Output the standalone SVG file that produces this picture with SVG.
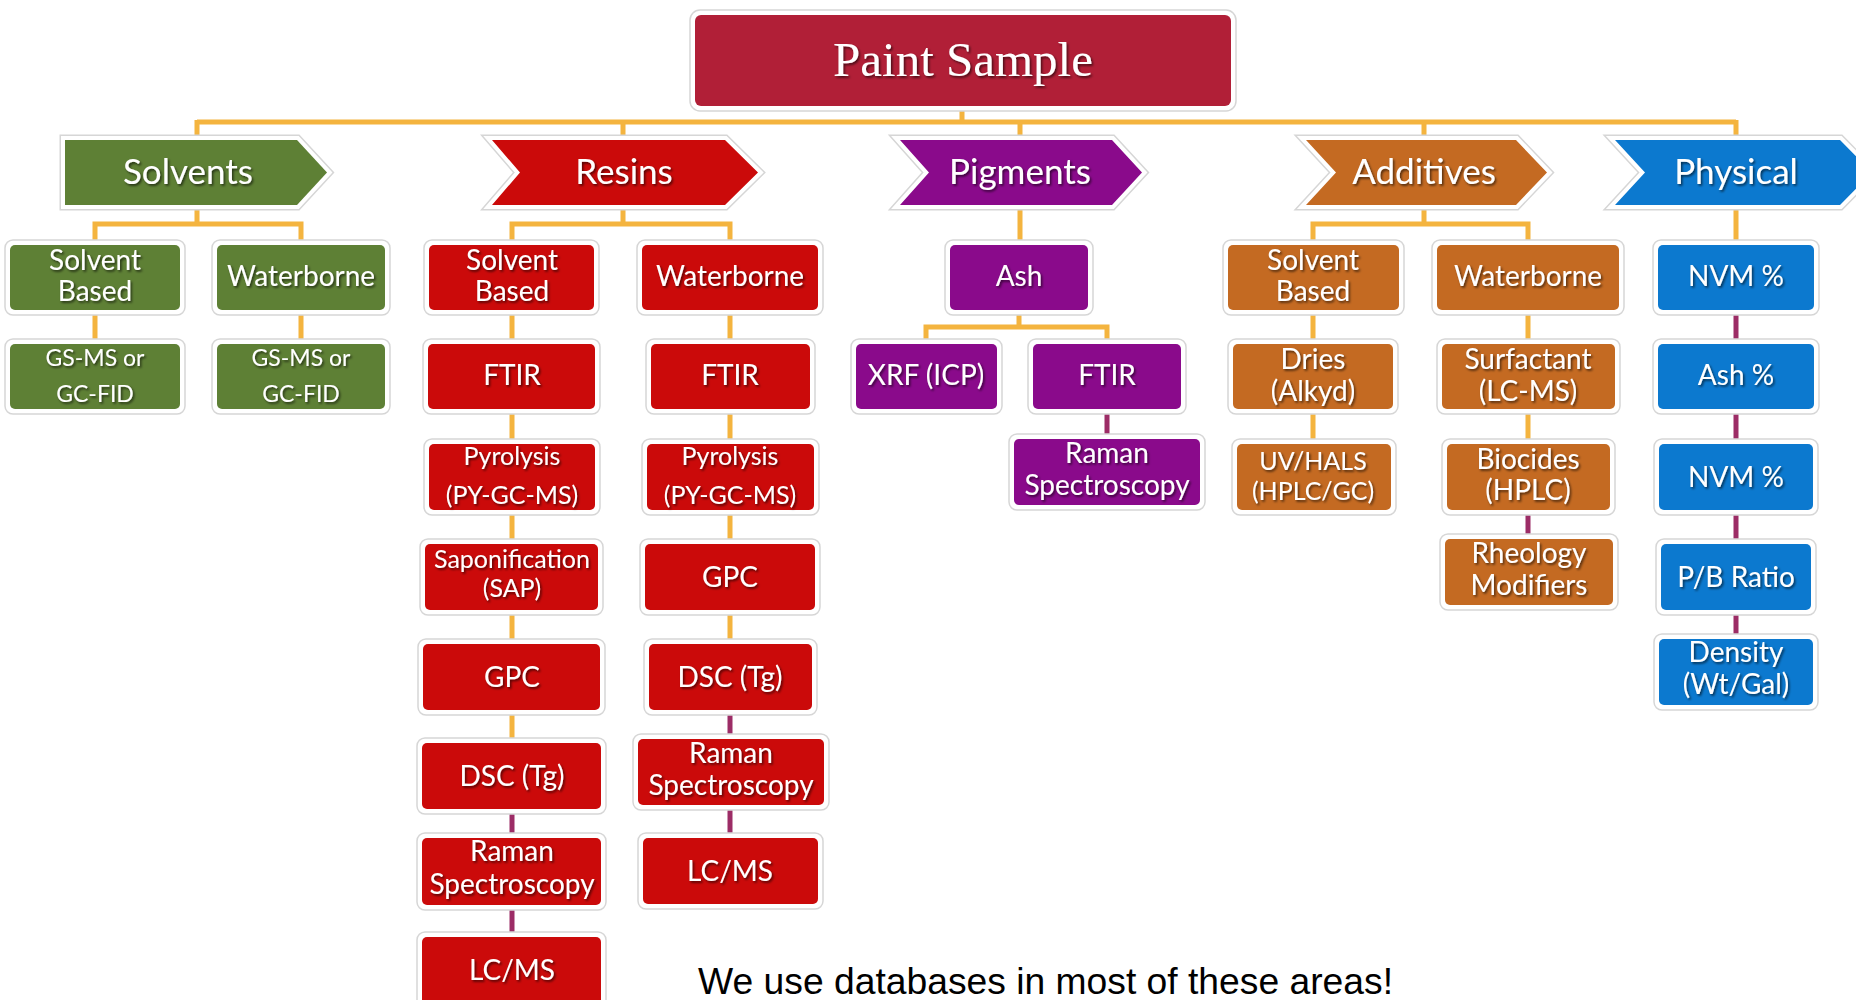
<svg xmlns="http://www.w3.org/2000/svg" width="1856" height="1000" viewBox="0 0 1856 1000">
<defs>
<filter id="ts" x="-10%" y="-30%" width="120%" height="160%">
<feDropShadow dx="1.5" dy="1.8" stdDeviation="1.1" flood-color="#000" flood-opacity="0.6"/>
</filter>
<style>
.ring{fill:#fff;stroke:#d6d6d6;stroke-width:1.5}
.g{fill:#5E8035}.r{fill:#CB0A0A}.p{fill:#8A0A8B}.o{fill:#C46A22}.b{fill:#0C79CF}
.t{font-family:Lato,"Noto Sans",sans-serif;fill:#fff;font-size:28px;text-anchor:middle;filter:url(#ts)}
.h{font-size:35px}
.s{font-size:25px}
.xs{font-size:23px}
.co{fill:none;stroke:#F4B43F;stroke-width:5}
.cp{fill:none;stroke:#9C2C66;stroke-width:5}
.cho{fill:none;stroke:#d6d6d6;stroke-width:11;stroke-linejoin:miter}
.chw{fill:none;stroke:#fff;stroke-width:8;stroke-linejoin:miter}
</style>
</defs>
<rect width="1856" height="1000" fill="#fff"/>
<g id="connectors">
<path class="co" d="M962,106 V122 M197,122 H1736 M197,120 V140 M623,122 V140 M1020,122 V140 M1424,122 V140 M1736,120 V140"/>
<path class="co" d="M197,205 V224 M95,245 V224 H301 V245 M623,205 V224 M512,245 V224 H730 V245 M1020,205 V245 M1019,310 V327 M926,344 V327 H1107 V344 M1424,205 V224 M1313,245 V224 H1528 V245 M1736,205 V245"/>
<path class="co" d="M95,310 V344 M301,310 V344 M512,310 V743 M730,310 V644 M1313,310 V444 M1528,310 V444"/>
<path class="cp" d="M512,809 V937 M730,710 V838 M1107,409 V439 M1528,510 V539 M1736,310 V639"/>
</g>
<g id="paint-sample">
<rect class="ring" x="690" y="10" width="546" height="101" rx="10"/>
<rect x="695" y="15" width="536" height="91" rx="6" fill="#B11F37"/>
<text x="963" y="76" font-family="'Liberation Serif',serif" font-size="49" fill="#fff" text-anchor="middle" filter="url(#ts)">Paint Sample</text>
</g>
<g id="solvents">
<path class="cho" d="M65,140 L297,140 L327,172.5 L297,205 L65,205 Z"/>
<path class="chw" d="M65,140 L297,140 L327,172.5 L297,205 L65,205 Z"/>
<path class="g" d="M65,140 L297,140 L327,172.5 L297,205 L65,205 Z"/>
<text class="t h" x="188" y="184">Solvents</text>
</g>
<g id="resins">
<path class="cho" d="M492,140 L725,140 L758,172.5 L725,205 L492,205 L520,172.5 Z"/>
<path class="chw" d="M492,140 L725,140 L758,172.5 L725,205 L492,205 L520,172.5 Z"/>
<path class="r" d="M492,140 L725,140 L758,172.5 L725,205 L492,205 L520,172.5 Z"/>
<text class="t h" x="624" y="184">Resins</text>
</g>
<g id="pigments">
<path class="cho" d="M900,140 L1112,140 L1142,172.5 L1112,205 L900,205 L929,172.5 Z"/>
<path class="chw" d="M900,140 L1112,140 L1142,172.5 L1112,205 L900,205 L929,172.5 Z"/>
<path class="p" d="M900,140 L1112,140 L1142,172.5 L1112,205 L900,205 L929,172.5 Z"/>
<text class="t h" x="1020" y="184">Pigments</text>
</g>
<g id="additives">
<path class="cho" d="M1306,140 L1516,140 L1547,172.5 L1516,205 L1306,205 L1336,172.5 Z"/>
<path class="chw" d="M1306,140 L1516,140 L1547,172.5 L1516,205 L1306,205 L1336,172.5 Z"/>
<path class="o" d="M1306,140 L1516,140 L1547,172.5 L1516,205 L1306,205 L1336,172.5 Z"/>
<text class="t h" x="1424" y="184">Additives</text>
</g>
<g id="physical">
<path class="cho" d="M1615,140 L1840,140 L1872,172.5 L1840,205 L1615,205 L1645,172.5 Z"/>
<path class="chw" d="M1615,140 L1840,140 L1872,172.5 L1840,205 L1615,205 L1645,172.5 Z"/>
<path class="b" d="M1615,140 L1840,140 L1872,172.5 L1840,205 L1615,205 L1645,172.5 Z"/>
<text class="t h" x="1736" y="184">Physical</text>
</g>

<g id="sv-sb"><rect class="ring" x="5" y="240" width="180" height="75" rx="8"/><rect class="g" x="10" y="245" width="170" height="65" rx="5"/><text class="t" x="95" y="270">Solvent</text><text class="t" x="95" y="301">Based</text></g>
<g id="sv-wb"><rect class="ring" x="212" y="240" width="178" height="75" rx="8"/><rect class="g" x="217" y="245" width="168" height="65" rx="5"/><text class="t" x="301" y="286">Waterborne</text></g>
<g id="sv-sb-gc"><rect class="ring" x="5" y="339" width="180" height="75" rx="8"/><rect class="g" x="10" y="344" width="170" height="65" rx="5"/><text class="t xs" x="95" y="366">GS-MS or</text><text class="t xs" x="95" y="402">GC-FID</text></g>
<g id="sv-wb-gc"><rect class="ring" x="212" y="339" width="178" height="75" rx="8"/><rect class="g" x="217" y="344" width="168" height="65" rx="5"/><text class="t xs" x="301" y="366">GS-MS or</text><text class="t xs" x="301" y="402">GC-FID</text></g>

<g id="rs-sb"><rect class="ring" x="424" y="240" width="175" height="75" rx="8"/><rect class="r" x="429" y="245" width="165" height="65" rx="5"/><text class="t" x="512" y="270">Solvent</text><text class="t" x="512" y="301">Based</text></g>
<g id="rs-wb"><rect class="ring" x="637" y="240" width="186" height="75" rx="8"/><rect class="r" x="642" y="245" width="176" height="65" rx="5"/><text class="t" x="730" y="286">Waterborne</text></g>
<g id="rs-sb-ftir"><rect class="ring" x="423" y="339" width="177" height="75" rx="8"/><rect class="r" x="428" y="344" width="167" height="65" rx="5"/><text class="t" x="512" y="385">FTIR</text></g>
<g id="rs-sb-pyro"><rect class="ring" x="424" y="439" width="176" height="76" rx="8"/><rect class="r" x="429" y="444" width="166" height="66" rx="5"/><text class="t s" x="512" y="465">Pyrolysis</text><text class="t s" x="512" y="504">(PY-GC-MS)</text></g>
<g id="rs-sb-sap"><rect class="ring" x="420" y="539" width="183" height="76" rx="8"/><rect class="r" x="425" y="544" width="173" height="66" rx="5"/><text class="t s" x="512" y="568">Saponification</text><text class="t s" x="512" y="597">(SAP)</text></g>
<g id="rs-sb-gpc"><rect class="ring" x="418" y="639" width="187" height="76" rx="8"/><rect class="r" x="423" y="644" width="177" height="66" rx="5"/><text class="t" x="512" y="687">GPC</text></g>
<g id="rs-sb-dsc"><rect class="ring" x="417" y="738" width="189" height="76" rx="8"/><rect class="r" x="422" y="743" width="179" height="66" rx="5"/><text class="t" x="512" y="786">DSC (Tg)</text></g>
<g id="rs-sb-raman"><rect class="ring" x="417" y="833" width="189" height="77" rx="8"/><rect class="r" x="422" y="838" width="179" height="67" rx="5"/><text class="t" x="512" y="861">Raman</text><text class="t" x="512" y="894">Spectroscopy</text></g>
<g id="rs-sb-lcms"><rect class="ring" x="417" y="932" width="189" height="80" rx="8"/><rect class="r" x="422" y="937" width="179" height="70" rx="5"/><text class="t" x="512" y="980">LC/MS</text></g>

<g id="rs-wb-ftir"><rect class="ring" x="646" y="339" width="169" height="75" rx="8"/><rect class="r" x="651" y="344" width="159" height="65" rx="5"/><text class="t" x="730" y="385">FTIR</text></g>
<g id="rs-wb-pyro"><rect class="ring" x="642" y="439" width="177" height="76" rx="8"/><rect class="r" x="647" y="444" width="167" height="66" rx="5"/><text class="t s" x="730" y="465">Pyrolysis</text><text class="t s" x="730" y="504">(PY-GC-MS)</text></g>
<g id="rs-wb-gpc"><rect class="ring" x="640" y="539" width="180" height="76" rx="8"/><rect class="r" x="645" y="544" width="170" height="66" rx="5"/><text class="t" x="730" y="587">GPC</text></g>
<g id="rs-wb-dsc"><rect class="ring" x="644" y="639" width="173" height="76" rx="8"/><rect class="r" x="649" y="644" width="163" height="66" rx="5"/><text class="t" x="730" y="687">DSC (Tg)</text></g>
<g id="rs-wb-raman"><rect class="ring" x="633" y="734" width="196" height="76" rx="8"/><rect class="r" x="638" y="739" width="186" height="66" rx="5"/><text class="t" x="731" y="763">Raman</text><text class="t" x="731" y="795">Spectroscopy</text></g>
<g id="rs-wb-lcms"><rect class="ring" x="638" y="833" width="185" height="76" rx="8"/><rect class="r" x="643" y="838" width="175" height="66" rx="5"/><text class="t" x="730" y="881">LC/MS</text></g>

<g id="pg-ash"><rect class="ring" x="945" y="240" width="148" height="75" rx="8"/><rect class="p" x="950" y="245" width="138" height="65" rx="5"/><text class="t" x="1019" y="286">Ash</text></g>
<g id="pg-xrf"><rect class="ring" x="851" y="339" width="151" height="75" rx="8"/><rect class="p" x="856" y="344" width="141" height="65" rx="5"/><text class="t" x="926" y="385">XRF (ICP)</text></g>
<g id="pg-ftir"><rect class="ring" x="1028" y="339" width="158" height="75" rx="8"/><rect class="p" x="1033" y="344" width="148" height="65" rx="5"/><text class="t" x="1107" y="385">FTIR</text></g>
<g id="pg-raman"><rect class="ring" x="1009" y="434" width="196" height="76" rx="8"/><rect class="p" x="1014" y="439" width="186" height="66" rx="5"/><text class="t" x="1107" y="463">Raman</text><text class="t" x="1107" y="495">Spectroscopy</text></g>

<g id="ad-sb"><rect class="ring" x="1223" y="240" width="181" height="75" rx="8"/><rect class="o" x="1228" y="245" width="171" height="65" rx="5"/><text class="t" x="1313" y="270">Solvent</text><text class="t" x="1313" y="301">Based</text></g>
<g id="ad-wb"><rect class="ring" x="1432" y="240" width="192" height="75" rx="8"/><rect class="o" x="1437" y="245" width="182" height="65" rx="5"/><text class="t" x="1528" y="286">Waterborne</text></g>
<g id="ad-dries"><rect class="ring" x="1228" y="339" width="170" height="75" rx="8"/><rect class="o" x="1233" y="344" width="160" height="65" rx="5"/><text class="t" x="1313" y="369">Dries</text><text class="t" x="1313" y="401">(Alkyd)</text></g>
<g id="ad-surf"><rect class="ring" x="1437" y="339" width="183" height="75" rx="8"/><rect class="o" x="1442" y="344" width="173" height="65" rx="5"/><text class="t" x="1528" y="369">Surfactant</text><text class="t" x="1528" y="401">(LC-MS)</text></g>
<g id="ad-uv"><rect class="ring" x="1232" y="439" width="164" height="76" rx="8"/><rect class="o" x="1237" y="444" width="154" height="66" rx="5"/><text class="t s" x="1313" y="470">UV/HALS</text><text class="t s" x="1313" y="500">(HPLC/GC)</text></g>
<g id="ad-bio"><rect class="ring" x="1442" y="439" width="173" height="76" rx="8"/><rect class="o" x="1447" y="444" width="163" height="66" rx="5"/><text class="t" x="1528" y="469">Biocides</text><text class="t" x="1528" y="500">(HPLC)</text></g>
<g id="ad-rheo"><rect class="ring" x="1440" y="534" width="178" height="76" rx="8"/><rect class="o" x="1445" y="539" width="168" height="66" rx="5"/><text class="t" x="1529" y="563">Rheology</text><text class="t" x="1529" y="595">Modifiers</text></g>

<g id="ph-nvm"><rect class="ring" x="1653" y="240" width="166" height="75" rx="8"/><rect class="b" x="1658" y="245" width="156" height="65" rx="5"/><text class="t" x="1736" y="286">NVM %</text></g>
<g id="ph-ash"><rect class="ring" x="1653" y="339" width="166" height="75" rx="8"/><rect class="b" x="1658" y="344" width="156" height="65" rx="5"/><text class="t" x="1736" y="385">Ash %</text></g>
<g id="ph-nvm2"><rect class="ring" x="1654" y="439" width="164" height="76" rx="8"/><rect class="b" x="1659" y="444" width="154" height="66" rx="5"/><text class="t" x="1736" y="487">NVM %</text></g>
<g id="ph-pb"><rect class="ring" x="1656" y="539" width="160" height="76" rx="8"/><rect class="b" x="1661" y="544" width="150" height="66" rx="5"/><text class="t" x="1736" y="587">P/B Ratio</text></g>
<g id="ph-den"><rect class="ring" x="1654" y="634" width="164" height="76" rx="8"/><rect class="b" x="1659" y="639" width="154" height="66" rx="5"/><text class="t" x="1736" y="662">Density</text><text class="t" x="1736" y="694">(Wt/Gal)</text></g>

<text x="698" y="994" font-family="'Liberation Sans',Arial,sans-serif" font-size="37" fill="#000" textLength="695" lengthAdjust="spacingAndGlyphs">We use databases in most of these areas!</text>
</svg>
